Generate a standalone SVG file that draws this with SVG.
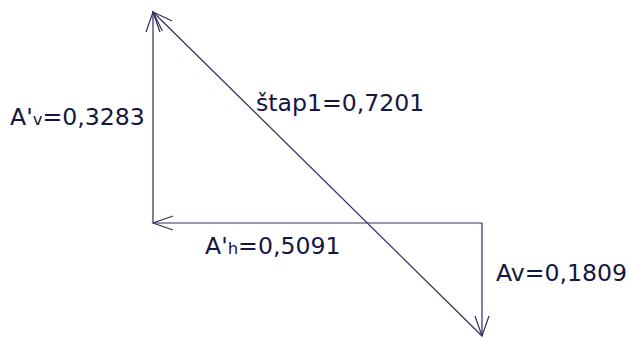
<svg xmlns="http://www.w3.org/2000/svg" width="629" height="338" viewBox="0 0 629 338">
<style>
.ln{stroke:#2e2e5e;stroke-width:1.2;fill:none}
.t{font-family:"DejaVu Sans","Verdana",sans-serif;font-size:23.6px;fill:#16163f}
.s{font-size:16.5px}
</style>
<defs>
<marker id="ah" markerUnits="userSpaceOnUse" markerWidth="24" markerHeight="18" viewBox="-22 -9 24 18" refX="0" refY="0" orient="auto">
<path d="M-20,-7 L0,0 L-20,7" fill="none" stroke="#2e2e5e" stroke-width="1.2"/>
</marker>
</defs>
<rect width="629" height="338" fill="#ffffff"/>
<g id="connectors">
<line class="ln" x1="153" y1="223" x2="153" y2="12" marker-end="url(#ah)"/>
<line class="ln" x1="482" y1="223" x2="153" y2="223" marker-end="url(#ah)"/>
<line class="ln" x1="482" y1="223" x2="482" y2="336" marker-end="url(#ah)"/>
<line class="ln" x1="482" y1="336" x2="153" y2="12" marker-end="url(#ah)"/>
</g>
<g id="label-Avp"><text class="t" x="10" y="125">A'<tspan class="s">v</tspan>=0,3283</text></g>
<g id="label-stap1"><text class="t" x="256" y="111">štap1=0,7201</text></g>
<g id="label-Ahp"><text class="t" x="205" y="254">A'<tspan class="s">h</tspan>=0,5091</text></g>
<g id="label-Av"><text class="t" x="496" y="281">Av=0,1809</text></g>
</svg>
